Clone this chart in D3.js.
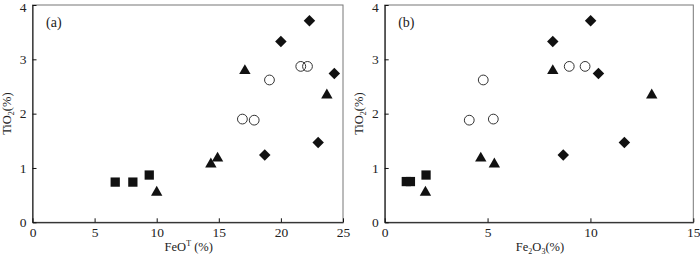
<!DOCTYPE html>
<html>
<head>
<meta charset="utf-8">
<script src="https://cdn.jsdelivr.net/npm/d3@7"></script>
<style>
  body { margin: 0; background: #fff; }
  svg text { font-family: 'Liberation Serif', 'Times New Roman', serif; fill: #222; }
</style>
</head>
<body>
<div id="chart"></div>
<script>
// panel (a): FeO^T vs TiO2
const squaresA = [[6.66, 0.74], [8.08, 0.74], [9.4, 0.87]];
const trianglesA = [[10.0, 0.55], [14.36, 1.07], [14.9, 1.18], [17.1, 2.79], [23.7, 2.34]];
const diamondsA = [[22.3, 3.71], [20.0, 3.33], [24.3, 2.74], [23.0, 1.47], [18.7, 1.24]];
const circlesA = [[16.9, 1.9], [17.85, 1.88], [19.08, 2.62], [21.6, 2.87], [22.14, 2.87]];

// panel (b): Fe2O3 vs TiO2
const squaresB = [[1.05, 0.75], [1.25, 0.75], [2.01, 0.87]];
const trianglesB = [[1.98, 0.55], [4.67, 1.18], [5.33, 1.07], [8.17, 2.79], [12.98, 2.34]];
const diamondsB = [[10.01, 3.71], [8.17, 3.33], [10.39, 2.74], [11.65, 1.47], [8.68, 1.24]];
const circlesB = [[4.11, 1.88], [5.28, 1.9], [4.79, 2.62], [8.97, 2.87], [9.74, 2.87]];

const xTicksA = [0, 5, 10, 15, 20, 25];
const xTicksB = [0, 5, 10, 15];
const yTicks = [0, 1, 2, 3, 4];

const W = 700, H = 255;
const svg = d3.select('#chart').append('svg').attr('width', W).attr('height', H);

const panels = [
  {
    left: 32.5, right: 343, xMax: 25, xTicks: xTicksA, tag: '(a)',
    squares: squaresA, triangles: trianglesA, diamonds: diamondsA, circles: circlesA,
    xlabel: 'a'
  },
  {
    left: 384.7, right: 693.3, xMax: 15, xTicks: xTicksB, tag: '(b)',
    squares: squaresB, triangles: trianglesB, diamonds: diamondsB, circles: circlesB,
    xlabel: 'b'
  }
];
const plotTop = 5, plotBottom = 222.3;

panels.forEach(p => {
  const x = d3.scaleLinear().domain([0, p.xMax]).range([p.left, p.right]);
  const y = d3.scaleLinear().domain([0, 4]).range([plotBottom, plotTop]);
  const g = svg.append('g');

  // gray frame
  g.append('rect')
    .attr('x', p.left).attr('y', plotTop)
    .attr('width', p.right - p.left).attr('height', plotBottom - plotTop)
    .attr('fill', 'none').attr('stroke', '#777').attr('stroke-width', 1);

  // axes with inward ticks
  const xAxis = d3.axisBottom(x).tickValues(p.xTicks).tickFormat(d3.format('d'))
    .tickSize(-4).tickPadding(5).tickSizeOuter(0);
  const yAxis = d3.axisLeft(y).tickValues(yTicks).tickFormat(d3.format('d'))
    .tickSize(-4).tickPadding(6).tickSizeOuter(0);
  const gx = g.append('g').attr('transform', 'translate(0,' + plotBottom + ')').call(xAxis);
  const gy = g.append('g').attr('transform', 'translate(' + p.left + ',0)').call(yAxis);
  [gx, gy].forEach(a => {
    a.attr('font-family', null).attr('font-size', null);
    a.select('.domain').attr('stroke', '#111');
    a.selectAll('.tick line').attr('stroke', '#111');
    a.selectAll('.tick text').style('font-size', '13.5px').attr('fill', '#222');
  });
  // top label sits right at the edge, nudge it in a bit
  gy.selectAll('.tick text').filter(d => d === 4).attr('dy', '0.45em');

  // panel tag
  g.append('text').attr('x', p.left + 13.5).attr('y', 27)
    .style('font-size', '14px').text(p.tag);

  // y label
  const yl = g.append('text')
    .attr('transform', 'translate(' + (p.left - 22) + ',' + ((plotTop + plotBottom) / 2) + ') rotate(-90)')
    .attr('text-anchor', 'middle').style('font-size', '12.5px');
  yl.append('tspan').text('TiO');
  yl.append('tspan').attr('dy', 3).style('font-size', '8px').text('2');
  yl.append('tspan').attr('dy', -3).text('(%)');

  // x label
  const cx = (p.left + p.right) / 2 + 1;
  const xl = g.append('text').attr('x', cx).attr('y', 251)
    .attr('text-anchor', 'middle').style('font-size', '12.5px');
  if (p.xlabel === 'a') {
    xl.append('tspan').text('FeO');
    xl.append('tspan').attr('dy', -5).style('font-size', '8px').text('T');
    xl.append('tspan').attr('dy', 5).text(' (%)');
  } else {
    xl.append('tspan').text('Fe');
    xl.append('tspan').attr('dy', 3).style('font-size', '8px').text('2');
    xl.append('tspan').attr('dy', -3).text('O');
    xl.append('tspan').attr('dy', 3).style('font-size', '8px').text('3');
    xl.append('tspan').attr('dy', -3).text('(%)');
  }

  // markers
  const sq = d3.symbol().type(d3.symbolSquare).size(86);
  const tri = d3.symbol().type(d3.symbolTriangle).size(56);
  const dia = d3.symbol().type(d3.symbolSquare).size(66);

  g.selectAll('.sq').data(p.squares).enter().append('path')
    .attr('d', sq).attr('fill', '#111')
    .attr('transform', d => 'translate(' + x(d[0]) + ',' + y(d[1]) + ')');
  g.selectAll('.tri').data(p.triangles).enter().append('path')
    .attr('d', tri).attr('fill', '#111')
    .attr('transform', d => 'translate(' + x(d[0]) + ',' + y(d[1]) + ')');
  g.selectAll('.dia').data(p.diamonds).enter().append('path')
    .attr('d', dia).attr('fill', '#111')
    .attr('transform', d => 'translate(' + x(d[0]) + ',' + y(d[1]) + ') rotate(45)');
  g.selectAll('.circ').data(p.circles).enter().append('circle')
    .attr('cx', d => x(d[0])).attr('cy', d => y(d[1])).attr('r', 4.9)
    .attr('fill', 'none').attr('stroke', '#333').attr('stroke-width', 1);
});
</script>
</body>
</html>
